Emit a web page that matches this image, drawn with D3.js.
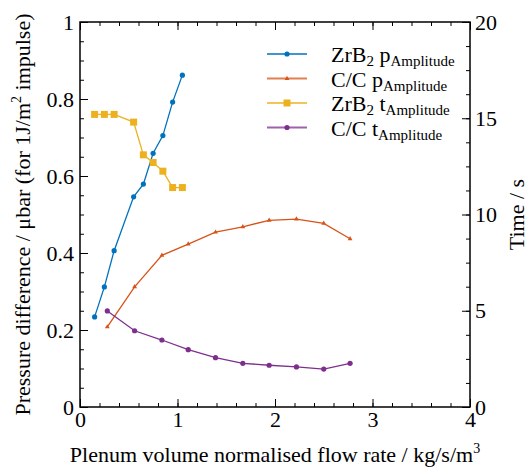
<!DOCTYPE html>
<html>
<head>
<meta charset="utf-8">
<script src="https://cdn.jsdelivr.net/npm/d3@7"></script>
<style>
  body { margin: 0; background: #fff; }
  svg { display: block; }
  svg text { font-family: "Liberation Serif", "Times New Roman", serif; fill: #000; }
</style>
</head>
<body>
<div id="chart"></div>
<script>
// data
const flowZrB2 = [0.15, 0.25, 0.35, 0.55, 0.65, 0.75, 0.85, 0.95, 1.05];
const pZrB2 = [0.234, 0.312, 0.406, 0.546, 0.579, 0.659, 0.705, 0.792, 0.862];
const tZrB2 = [15.2, 15.2, 15.2, 14.8, 13.1, 12.7, 12.25, 11.4, 11.4];
const flowCC = [0.28, 0.56, 0.84, 1.11, 1.39, 1.67, 1.94, 2.22, 2.5, 2.77];
const pCC = [0.208, 0.312, 0.394, 0.423, 0.454, 0.468, 0.485, 0.488, 0.477, 0.437];
const tCC = [4.99, 3.96, 3.48, 2.98, 2.56, 2.27, 2.17, 2.08, 1.97, 2.27];

const xTicks = [0, 1, 2, 3, 4];
const yLeftTicks = [0, 0.2, 0.4, 0.6, 0.8, 1];
const yRightTicks = [0, 5, 10, 15, 20];

const W = 528, H = 469;
const m = {top: 22, right: 58, bottom: 62, left: 80};

const svg = d3.select("#chart").append("svg")
  .attr("width", W).attr("height", H);

const x = d3.scaleLinear().domain([0, 4]).range([m.left, W - m.right]);
const yL = d3.scaleLinear().domain([0, 1]).range([H - m.bottom, m.top]);
const yR = d3.scaleLinear().domain([0, 20]).range([H - m.bottom, m.top]);

const fmt = d => String(+d.toFixed(1));

// minor ticks
svg.append("g").attr("transform", `translate(0,${H - m.bottom})`)
  .call(d3.axisBottom(x).tickValues(d3.range(0, 4.001, 0.2)).tickSize(-4).tickSizeOuter(0).tickFormat(""));
svg.append("g").attr("transform", `translate(0,${m.top})`)
  .call(d3.axisTop(x).tickValues(d3.range(0, 4.001, 0.2)).tickSize(-4).tickSizeOuter(0).tickFormat(""));
svg.append("g").attr("transform", `translate(${m.left},0)`)
  .call(d3.axisLeft(yL).tickValues(d3.range(0, 1.001, 0.05)).tickSize(-4).tickSizeOuter(0).tickFormat(""));
svg.append("g").attr("transform", `translate(${W - m.right},0)`)
  .call(d3.axisRight(yR).tickValues(d3.range(0, 20.001, 1.25)).tickSize(-4).tickSizeOuter(0).tickFormat(""));

// major ticks + labels
svg.append("g").attr("transform", `translate(0,${H - m.bottom})`)
  .call(d3.axisBottom(x).tickValues(xTicks).tickSize(-8).tickSizeOuter(0).tickPadding(4).tickFormat(fmt));
svg.append("g").attr("transform", `translate(0,${m.top})`)
  .call(d3.axisTop(x).tickValues(xTicks).tickSize(-8).tickSizeOuter(0).tickFormat(""));
svg.append("g").attr("transform", `translate(${m.left},0)`)
  .call(d3.axisLeft(yL).tickValues(yLeftTicks).tickSize(-8).tickSizeOuter(0).tickPadding(6).tickFormat(fmt));
svg.append("g").attr("transform", `translate(${W - m.right},0)`)
  .call(d3.axisRight(yR).tickValues(yRightTicks).tickSize(-8).tickSizeOuter(0).tickPadding(5).tickFormat(d => d));

svg.selectAll(".tick line").attr("stroke", "#000").attr("stroke-width", 1);
svg.selectAll(".domain").remove();
svg.selectAll(".tick text").attr("font-size", 22);

// frame
svg.append("rect")
  .attr("x", m.left).attr("y", m.top)
  .attr("width", W - m.left - m.right).attr("height", H - m.top - m.bottom)
  .attr("fill", "none").attr("stroke", "#000").attr("stroke-width", 1.5);

const series = [
  {name: "ZrB", sub1: "2", sym: "p", xs: flowZrB2, ys: pZrB2, y: yL, color: "#0072BD", marker: "dot"},
  {name: "C/C", sub1: "", sym: "p", xs: flowCC, ys: pCC, y: yL, color: "#D95319", marker: "tri"},
  {name: "ZrB", sub1: "2", sym: "t", xs: flowZrB2, ys: tZrB2, y: yR, color: "#EDB120", marker: "sq"},
  {name: "C/C", sub1: "", sym: "t", xs: flowCC, ys: tCC, y: yR, color: "#7E2F8E", marker: "dot"}
];

function drawMarker(g, type, color) {
  if (type === "dot") g.append("circle").attr("r", 2.6).attr("fill", color);
  else if (type === "sq") g.append("rect").attr("x", -3.5).attr("y", -3.5).attr("width", 7).attr("height", 7).attr("fill", color);
  else g.append("path").attr("d", d3.symbol(d3.symbolTriangle, 10)()).attr("fill", color);
}

series.forEach(s => {
  const pts = s.xs.map((v, i) => [v, s.ys[i]]);
  svg.append("path")
    .attr("d", d3.line().x(d => x(d[0])).y(d => s.y(d[1]))(pts))
    .attr("fill", "none").attr("stroke", s.color).attr("stroke-width", 1.3);
  pts.forEach(p => {
    const g = svg.append("g").attr("transform", `translate(${x(p[0])},${s.y(p[1])})`);
    drawMarker(g, s.marker, s.color);
  });
});

// legend
const leg = svg.append("g");
series.forEach((s, i) => {
  const yy = 54 + i * 24.5;
  leg.append("line").attr("x1", 267).attr("x2", 307).attr("y1", yy).attr("y2", yy)
    .attr("stroke", s.color).attr("stroke-width", 1.8).attr("stroke-opacity", 0.75);
  const g = leg.append("g").attr("transform", `translate(287,${yy})`);
  drawMarker(g, s.marker, s.color);
  const t = leg.append("text").attr("x", 331).attr("y", yy + 8).attr("font-size", 22);
  t.append("tspan").text(s.name);
  if (s.sub1) t.append("tspan").attr("font-size", 15).attr("dy", 4).text(s.sub1);
  t.append("tspan").attr("dy", s.sub1 ? -4 : 0).text(s.sub1 ? " " : "  ");
  t.append("tspan").text(s.sym);
  t.append("tspan").attr("font-size", 15).attr("dy", 4).text("Amplitude");
});

// axis titles
const xt = svg.append("text").attr("x", (m.left + W - m.right) / 2).attr("y", 462)
  .attr("text-anchor", "middle").attr("font-size", 22);
xt.append("tspan").text("Plenum volume normalised flow rate / kg/s/m");
xt.append("tspan").attr("font-size", 14).attr("dy", -9).text("3");

const yt = svg.append("text")
  .attr("transform", `translate(30,${(m.top + H - m.bottom) / 2}) rotate(-90)`)
  .attr("text-anchor", "middle").attr("font-size", 22);
yt.append("tspan").text("Pressure difference / \u03bcbar (for 1J/m");
yt.append("tspan").attr("font-size", 14).attr("dy", -9).text("2");
yt.append("tspan").attr("dy", 9).text(" impulse)");

svg.append("text")
  .attr("transform", `translate(524,${(m.top + H - m.bottom) / 2}) rotate(-90)`)
  .attr("text-anchor", "middle").attr("font-size", 22).text("Time / s");
</script>
</body>
</html>
